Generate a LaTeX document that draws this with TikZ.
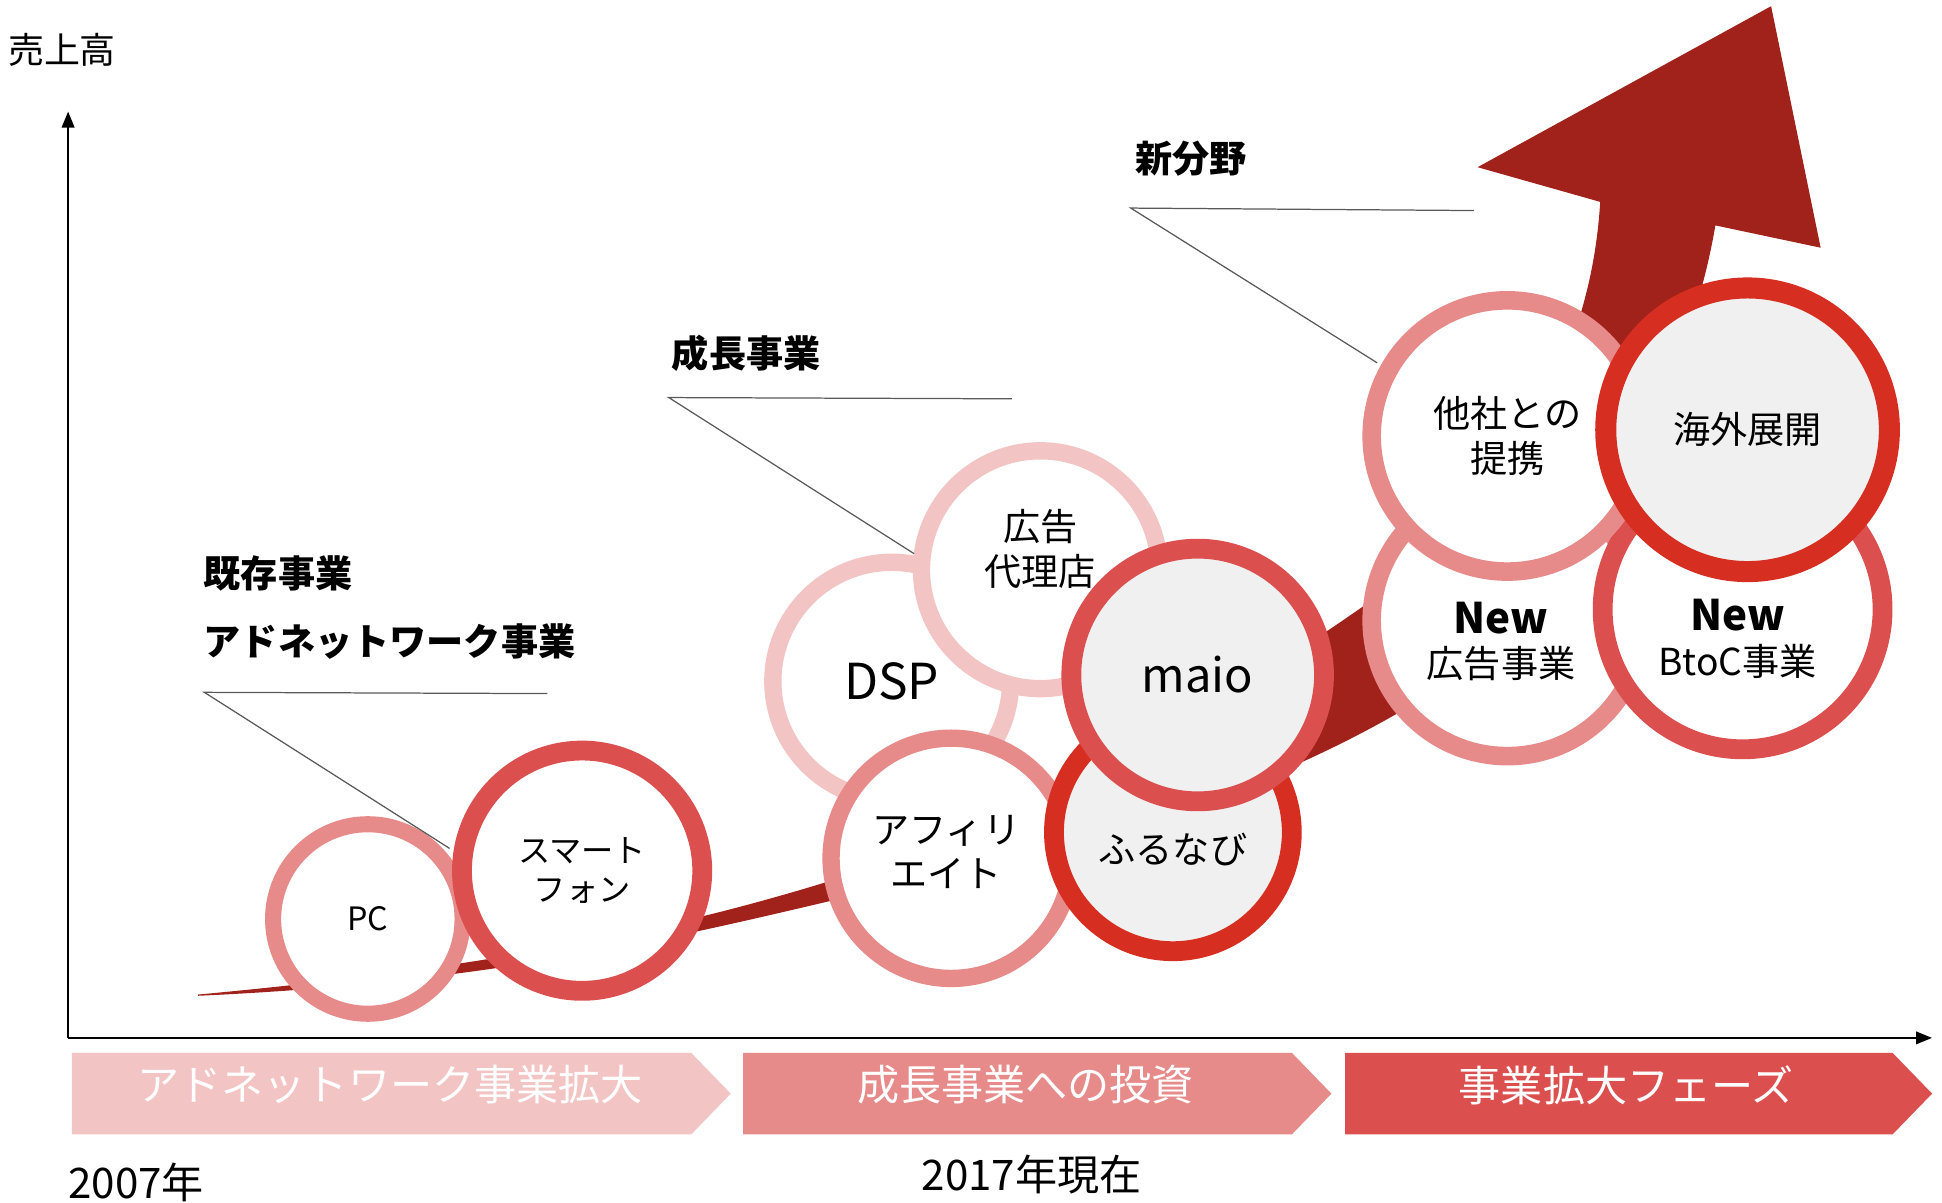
\documentclass[tikz,border=0pt]{standalone}
\usepackage{fontspec}
\setmainfont{Noto Sans CJK JP}
\usetikzlibrary{arrows.meta}
\definecolor{pinkA}{HTML}{F2C4C4}
\definecolor{pinkB}{HTML}{E68A8A}
\definecolor{redA}{HTML}{DC4F4F}
\definecolor{redB}{HTML}{D62E20}
\definecolor{growred}{HTML}{A0221A}
\definecolor{ringgray}{HTML}{F0F0F0}
\tikzset{
  axis/.style={line width=2pt, -{Triangle[length=13pt,width=10pt]}},
  callout/.style={draw=black!65, line width=1pt},
  ring/.style={circle, inner sep=0pt, align=center, fill=white, line width=15pt,
    font=\fontsize{30}{36}\selectfont},
  ringA/.style={ring, draw=pinkA},
  ringB/.style={ring, draw=pinkB},
  ringC/.style={ring, draw=redA},
  ringD/.style={ring, draw=redB, fill=ringgray},
  ringtext/.style={align=center, font=\fontsize{30}{36}\selectfont},
  phasetext/.style={text=white, font=\fontsize{34}{40}\selectfont},
  headline/.style={anchor=west, font=\fontsize{30}{36}\selectfont\bfseries},
  yeartext/.style={font=\fontsize{34}{40}\selectfont}
}
\begin{document}
\begin{tikzpicture}[x=1pt, y=-1pt]
\useasboundingbox (0,0) rectangle (1568,971);

% growth arrow behind everything
\fill[growred] (160,803) .. controls (420,779) and (560,745) .. (668,712)
  .. controls (850,650) and (1000,560) .. (1100,490)
  .. controls (1230,390) and (1285,280) .. (1292,163) -- (1193,135) -- (1430,5)
  -- (1470,200) -- (1385,182) .. controls (1360,330) and (1260,500) .. (1130,575)
  .. controls (1000,650) and (850,690) .. (668,728)
  .. controls (520,763) and (380,794) .. (160,804) -- cycle;

% axes
\coordinate (origin) at (55,838);
\coordinate (ytop) at (55,90);
\coordinate (xend) at (1560,838);
\draw[axis] (origin) -- (ytop);
\draw[axis] (origin) -- (xend);
\node[anchor=west, font=\fontsize{29}{34}\selectfont] (ylabel) at (3,40) {売上高};

% existing business
\node[ringB, line width=13pt, minimum size=153pt, font=\fontsize{26}{30}\selectfont] (pc) at (297,742) {PC};
\node[ringC, line width=16pt, minimum size=194pt, font=\fontsize{26}{31}\selectfont] (smart) at (470,703) {スマート\\フォン};

% growth business
\node[ringA, line width=14pt, minimum size=192pt, font=\fontsize{40}{44}\selectfont] (dsp) at (720,550) {DSP};
\node[ringA, line width=14pt, minimum size=192pt] (agency) at (840,460) {};
\node[ringtext] (agencytext) at (840,443) {広告\\代理店};
\node[ringB, line width=14pt, minimum size=194pt] (affil) at (768,693) {};
\node[ringtext] (affiltext) at (764,688) {アフィリ\\エイト};
\node[ringD, line width=16pt, minimum size=192pt] (furu) at (947,672) {};
\node[ringtext] (furutext) at (947,686) {ふるなび};
\node[ringC, line width=16pt, minimum size=204pt, fill=ringgray, font=\fontsize{38}{42}\selectfont] (maio) at (967,545) {maio};

% new fields
\node[ringB, minimum size=219pt] (newad) at (1217,501) {};
\node[ringtext] (newadtext) at (1212,518) {{\bfseries\fontsize{34}{36}\selectfont New}\\広告事業};
\node[ringC, line width=16pt, minimum size=226pt] (btoc) at (1407,492) {};
\node[ringtext] (btoctext) at (1403,516) {{\bfseries\fontsize{34}{36}\selectfont New}\\BtoC事業};
\node[ringB, minimum size=219pt] (partner) at (1217,352) {他社との\\提携};
\node[ringD, line width=17pt, minimum size=229pt] (overseas) at (1411,347) {海外展開};

% headlines and callouts
\node[headline] (kizon) at (161,463) {既存事業};
\node[headline] (adnet) at (161,518) {アドネットワーク事業};
\node[headline] (seicho) at (539,285) {成長事業};
\node[headline] (shinki) at (913,128) {新分野};
\coordinate (kizonA) at (165,559);
\coordinate (kizonB) at (442,560);
\coordinate (kizonC) at (363,685);
\coordinate (seichoA) at (540,321);
\coordinate (seichoB) at (817,322);
\coordinate (seichoC) at (738,447);
\coordinate (shinkiA) at (913,168);
\coordinate (shinkiB) at (1190,170);
\coordinate (shinkiC) at (1112,293);
\draw[callout] (kizonB) -- (kizonA) -- (kizonC);
\draw[callout] (seichoB) -- (seichoA) -- (seichoC);
\draw[callout] (shinkiB) -- (shinkiA) -- (shinkiC);

% phases
\fill[pinkA] (58,850) -- (558,850) -- (590,883) -- (558,916) -- (58,916) -- cycle;
\fill[pinkB] (600,850) -- (1043,850) -- (1075,883) -- (1043,916) -- (600,916) -- cycle;
\fill[redA] (1086,850) -- (1528,850) -- (1560,883) -- (1528,916) -- (1086,916) -- cycle;
\node[phasetext] (phaseA) at (315,876) {アドネットワーク事業拡大};
\node[phasetext] (phaseB) at (828,876) {成長事業への投資};
\node[phasetext] (phaseC) at (1313,876) {事業拡大フェーズ};

\node[yeartext] (y2007) at (110,955) {2007年};
\node[yeartext] (y2017) at (833,948) {2017年現在};
\end{tikzpicture}
\end{document}
